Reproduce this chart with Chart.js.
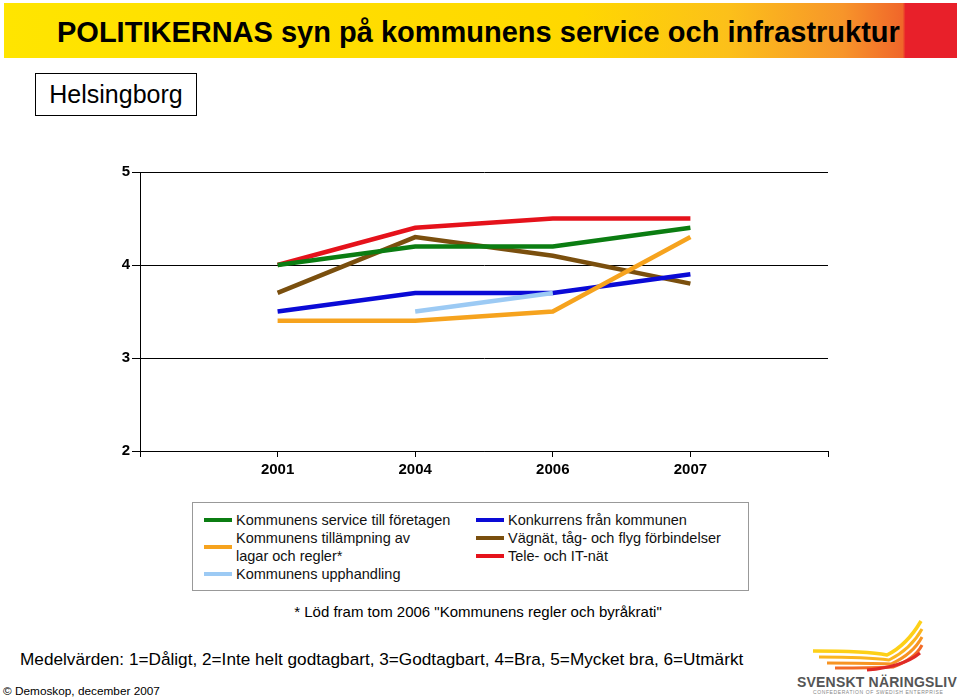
<!DOCTYPE html>
<html>
<head>
<meta charset="utf-8">
<script src="https://cdn.jsdelivr.net/npm/chart.js@4/dist/chart.umd.min.js"></script>
<style>
  body { margin: 0; width: 960px; height: 698px; background: #fff; position: relative; overflow: hidden; font-family: "Liberation Sans", Arial, sans-serif; }
  .banner { position: absolute; left: 4px; top: 3px; width: 953px; height: 55px;
    background: linear-gradient(to right, #ffe500 0%, #ffd800 60%, #fcc01a 76%, #f7952a 88%, #f0662a 94.3%, #e8202a 94.6%, #e8202a 100%); }
  .banner span { position: absolute; left: 53px; top: 13px; font-size: 29px; font-weight: bold; color: #000; white-space: nowrap; }
  .city { position: absolute; left: 35px; top: 73px; width: 160px; height: 41px; border: 1.5px solid #000; font-size: 25px; line-height: 41px; text-align: center; }
  #wrap { position: absolute; left: 90px; top: 160px; width: 760px; height: 330px; }
  .legend { position: absolute; left: 192px; top: 502px; width: 555px; height: 87px; border: 1px solid #999; font-size: 14.5px; color: #111; }
  .col { position: absolute; top: 8px; }
  .item { position: relative; padding-left: 43px; line-height: 18px; white-space: nowrap; }
  .item i { position: absolute; left: 11px; width: 28px; height: 4px; }
  .note { position: absolute; left: 0; width: 956px; top: 603px; text-align: center; font-size: 15px; }
  .scale { position: absolute; left: 20px; top: 649px; font-size: 17.2px; white-space: nowrap; }
  .copy { position: absolute; left: 3px; top: 684px; font-size: 11.8px; }
  .logo { position: absolute; left: 795px; top: 618px; width: 160px; height: 78px; }
  .logo svg { position: absolute; left: 12px; top: 0; }
  .logo b { position: absolute; left: 2px; top: 56px; font-size: 14px; color: #555; white-space: nowrap; letter-spacing: 0.2px; }
  .logo small { position: absolute; left: 18px; top: 71px; font-size: 5px; color: #888; letter-spacing: 0.6px; white-space: nowrap; }
</style>
</head>
<body>
<div class="banner"><span>POLITIKERNAS syn på kommunens service och infrastruktur</span></div>
<div class="city">Helsingborg</div>
<div id="wrap"><canvas id="chart"></canvas></div>
<div class="legend" id="legend"></div>
<div class="note">* Löd fram tom 2006 "Kommunens regler och byråkrati"</div>
<div class="scale">Medelvärden: 1=Dåligt, 2=Inte helt godtagbart, 3=Godtagbart, 4=Bra, 5=Mycket bra, 6=Utmärkt</div>
<div class="copy">© Demoskop, december 2007</div>
<div class="logo">
  <svg width="125" height="55" viewBox="0 0 125 55">
    <path d="M6 33 Q60 33 80 37 Q100 27 114 3" stroke="#fdd018" stroke-width="3.5" fill="none"/>
    <path d="M12 39 Q60 39 82 42 Q104 31 115 11" stroke="#fbb51f" stroke-width="3" fill="none"/>
    <path d="M20 45 Q62 45 84 46 Q106 36 115 19" stroke="#f79423" stroke-width="3" fill="none"/>
    <path d="M28 50 Q66 50 86 49 Q108 41 115 27" stroke="#f26a26" stroke-width="3" fill="none"/>
    <path d="M60 52 Q96 49 113 35" stroke="#df2a27" stroke-width="3" fill="none"/>
  </svg>
  <b>SVENSKT NÄRINGSLIV</b>
  <small>CONFEDERATION OF SWEDISH ENTERPRISE</small>
</div>
<script>
const years = ['2001', '2004', '2006', '2007'];
const service = [4.0, 4.2, 4.2, 4.4];
const tillampning = [3.4, 3.4, 3.5, 4.3];
const upphandling = [null, 3.5, 3.7, null];
const konkurrens = [3.5, 3.7, 3.7, 3.9];
const vagnat = [3.7, 4.3, 4.1, 3.8];
const tele = [4.0, 4.4, 4.5, 4.5];
const yTicks = [2, 3, 4, 5];

const series = [
  { label: 'Kommunens service till företagen', data: service, color: '#0b7d12', col: 0 },
  { label: 'Kommunens tillämpning av<br>lagar och regler*', data: tillampning, color: '#f6a31e', col: 0 },
  { label: 'Kommunens upphandling', data: upphandling, color: '#9ccaf4', col: 0 },
  { label: 'Konkurrens från kommunen', data: konkurrens, color: '#0a0ad6', col: 1 },
  { label: 'Vägnät, tåg- och flyg förbindelser', data: vagnat, color: '#7a4f0e', col: 1 },
  { label: 'Tele- och IT-nät', data: tele, color: '#e5121b', col: 1 }
];

// empty slot before and after the years
const labels = [''].concat(years, ['']);

// legend
const legend = document.getElementById('legend');
[0, 1].forEach(c => {
  const col = document.createElement('div');
  col.className = 'col';
  col.style.left = c === 0 ? '0px' : '272px';
  series.filter(s => s.col === c).forEach(s => {
    const it = document.createElement('div');
    it.className = 'item';
    const lines = s.label.split('<br>').length;
    it.innerHTML = `<i style="background:${s.color};top:${lines > 1 ? 16 : 7}px"></i>${s.label}`;
    col.appendChild(it);
  });
  legend.appendChild(col);
});

new Chart(document.getElementById('chart'), {
  type: 'line',
  data: {
    labels: labels,
    datasets: series.map(s => ({
      label: s.label,
      data: [null].concat(s.data, [null]),
      borderColor: s.color,
      backgroundColor: s.color,
      borderWidth: 4.5,
      pointRadius: 0,
      spanGaps: false,
      tension: 0
    }))
  },
  options: {
    responsive: true,
    maintainAspectRatio: false,
    animation: false,
    layout: { padding: { top: 12, right: 22, left: 0, bottom: 0 } },
    plugins: { legend: { display: false }, tooltip: { enabled: false } },
    scales: {
      x: {
        offset: false,
        grid: { drawOnChartArea: false, drawTicks: true, tickLength: 6, color: '#000' },
        border: { color: '#000', width: 1 },
        ticks: { color: '#000', font: { family: 'Liberation Sans', size: 15, weight: 'bold' }, padding: 4, maxRotation: 0, autoSkip: false },
        afterFit: s => { s.height = 39; }
      },
      y: {
        min: yTicks[0],
        max: yTicks[yTicks.length - 1],
        afterBuildTicks: s => { s.ticks = yTicks.map(v => ({ value: v })); },
        grid: { color: '#000', lineWidth: 1, tickLength: 8 },
        border: { color: '#000', width: 1 },
        ticks: { color: '#000', font: { family: 'Liberation Sans', size: 15, weight: 'bold' }, padding: 2 },
        afterFit: s => { s.width = 50; }
      }
    }
  }
});
</script>
</body>
</html>
